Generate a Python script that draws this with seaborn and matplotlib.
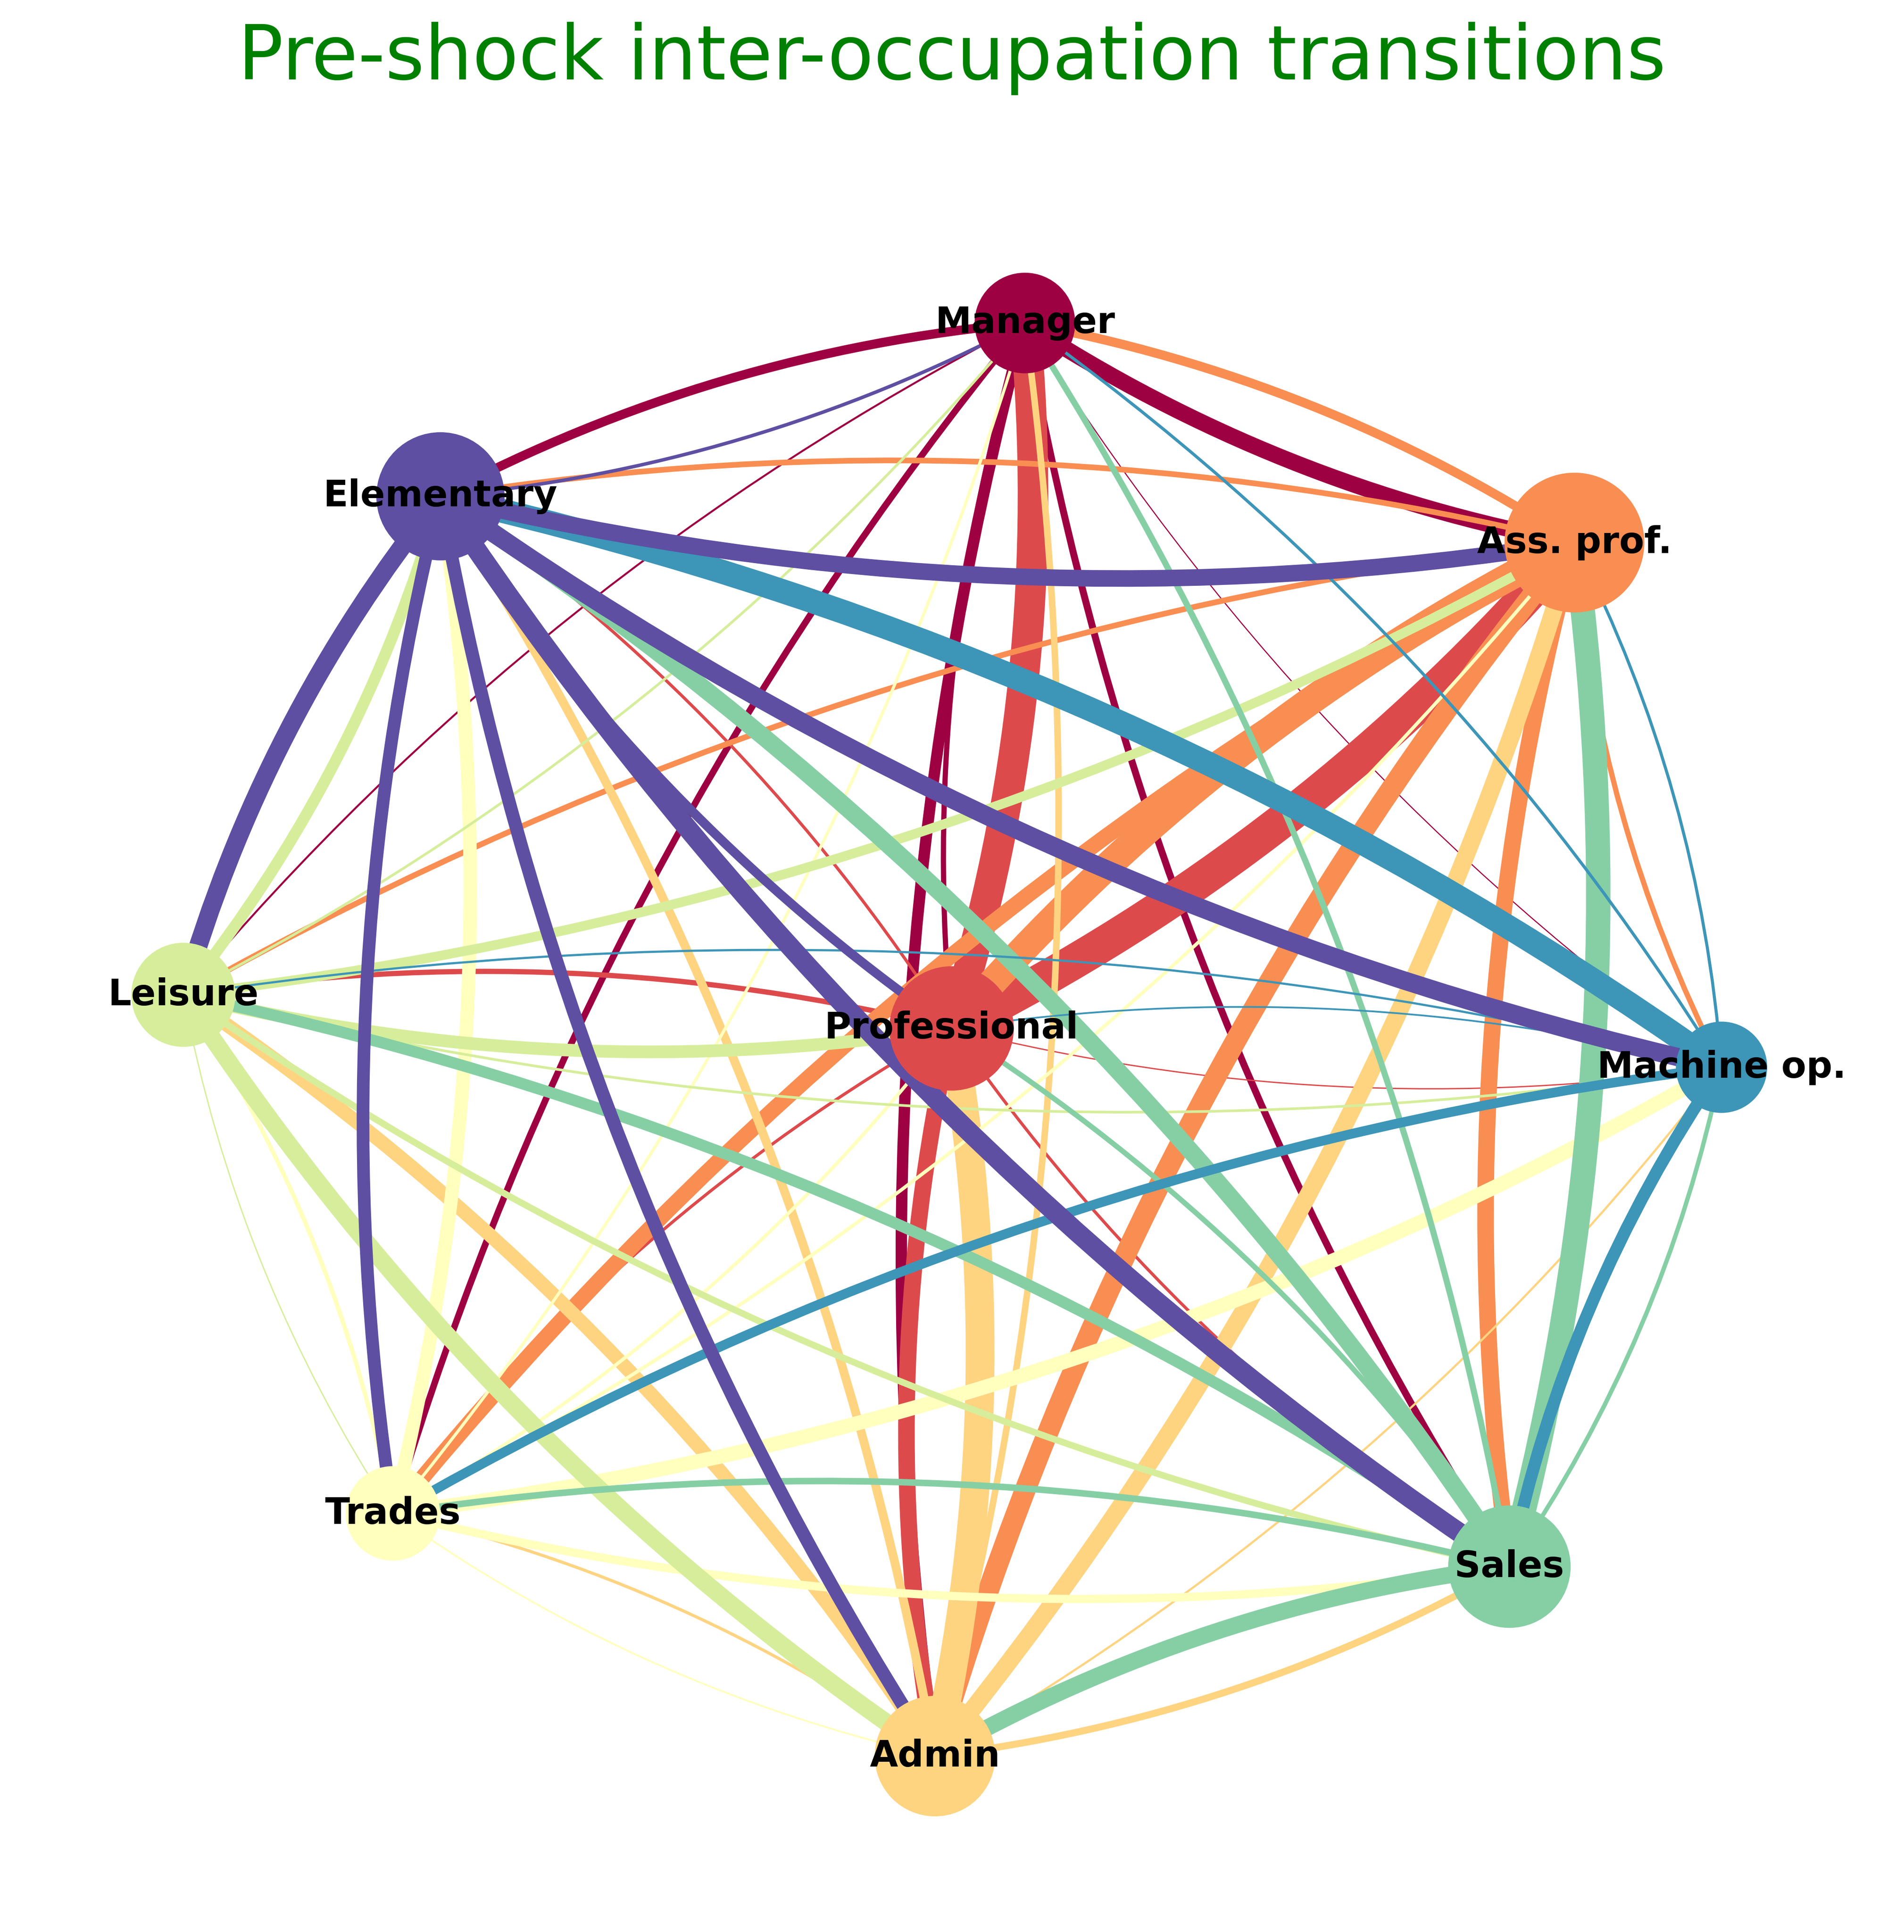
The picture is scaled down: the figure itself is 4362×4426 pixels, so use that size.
import numpy as np
import pandas as pd
import matplotlib
matplotlib.use("Agg")
import matplotlib.pyplot as plt
from matplotlib.patches import FancyArrowPatch
import seaborn as sns

# occupations in colour order (Spectral, first -> last)
occupations = ["Manager", "Professional", "Ass. prof.", "Admin", "Trades",
               "Leisure", "Sales", "Machine op.", "Elementary"]
employment_share = [8.5, 13.0, 16.4, 12.2, 7.5, 9.1, 12.6, 7.0, 13.8]

# node layout
layout_x = [0.0835, -0.0005, 0.713, -0.0195, -0.6405, -0.8805, 0.6385, 0.8815, -0.586]
layout_y = [0.7365, -0.0715, 0.485, -0.905, -0.627, -0.033, -0.688, -0.116, 0.538]

# transitions, rows = origin, cols = destination (same order as occupations)
flows = [
    [0, 12, 37, 26, 15, 4.5, 16, 2.5, 21],
    [70, 0, 80, 38, 7, 12, 7, 3, 7],
    [21, 65, 0, 48, 36, 13, 38, 12, 13],
    [15, 66, 40, 0, 7, 32, 16, 5, 20],
    [7, 8, 8, 4, 0, 10, 19, 33, 31],
    [6, 29, 22, 40, 3, 0, 15, 6, 26],
    [14, 12, 56, 38, 15, 26, 0, 10, 40],
    [7, 4, 7, 0, 22, 5, 28, 0, 55],
    [8, 21, 38, 30, 29, 42, 45, 42, 0],
]

sns.set_theme(style="white")
colors = plt.get_cmap("Spectral")(np.linspace(0, 1, len(occupations)))

nodes = pd.DataFrame({"occupation": occupations, "share": employment_share,
                      "x": layout_x, "y": layout_y})

fig = plt.figure(figsize=(4362 / 300, 4426 / 300), dpi=300)
ax = fig.add_axes([0, 0, 1, 1])

# edges: coloured by origin, width by flow, curved so both directions show
width_scale = 72 / 300
for i in range(len(occupations)):
    for j in range(len(occupations)):
        w = flows[i][j]
        if i == j or w <= 0:
            continue
        arc = FancyArrowPatch((layout_x[i], layout_y[i]), (layout_x[j], layout_y[j]),
                              arrowstyle="-", connectionstyle="arc3,rad=0.1",
                              color=colors[i], lw=w * width_scale,
                              shrinkA=0, shrinkB=0, zorder=1)
        ax.add_patch(arc)

size_k = 360
sns.scatterplot(data=nodes, x="x", y="y", hue="occupation", palette=list(colors),
                size="share", sizes=(min(employment_share) * size_k, max(employment_share) * size_k),
                linewidth=0, alpha=1, legend=False, ax=ax, zorder=3)

for i, name in enumerate(occupations):
    ax.text(layout_x[i], layout_y[i], name, ha="center", va="center",
            fontsize=20, fontweight="bold", color="black", zorder=4)

ax.set_xlim(-1.0905, 1.0905)
ax.set_ylim(-1.1065, 1.1065)
ax.axis("off")

fig.text(0.5, 0.9589, "Pre-shock inter-occupation transitions", ha="center",
         va="baseline", fontsize=41.5, color="green")

fig.savefig("out.png", dpi=300)
